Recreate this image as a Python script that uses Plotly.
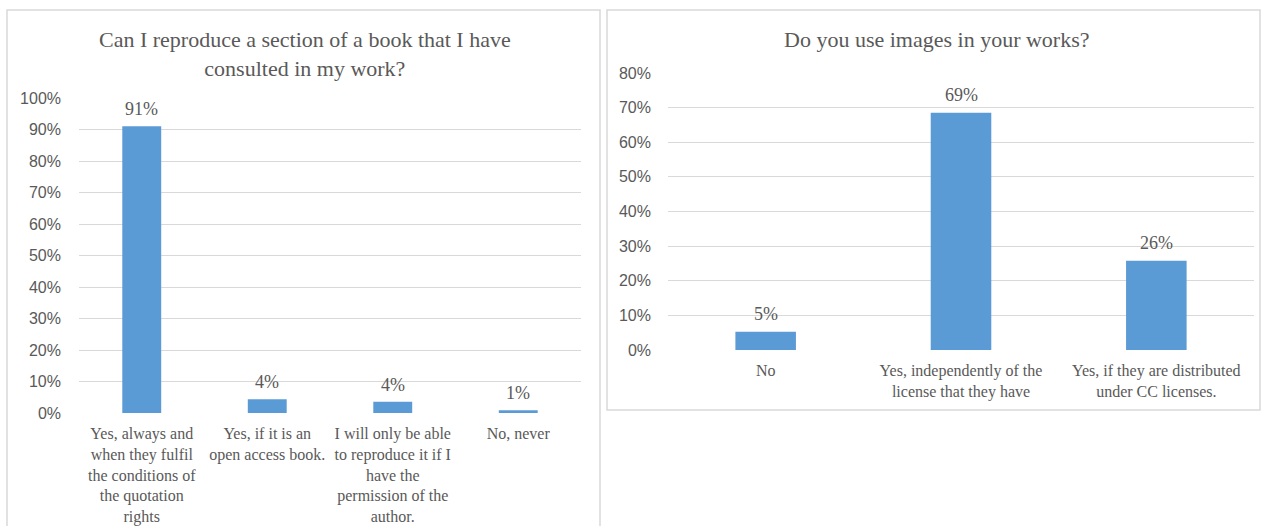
import plotly.graph_objects as go

W, H = 1262, 526

# ---- data ----
left_title = "Can I reproduce a section of a book that I have<br>consulted in my work?"
left_categories = [
    "Yes, always and<br>when they fulfil<br>the conditions of<br>the quotation<br>rights",
    "Yes, if it is an<br>open access book.",
    "I will only be able<br>to reproduce it if I<br>have the<br>permission of the<br>author.",
    "No, never",
]
left_values = [91, 4.4, 3.6, 0.9]
left_labels = ["91%", "4%", "4%", "1%"]
left_ticks = [0, 10, 20, 30, 40, 50, 60, 70, 80, 90, 100]
left_ticktext = ["0%", "10%", "20%", "30%", "40%", "50%", "60%", "70%", "80%", "90%", "100%"]

right_title = "Do you use images in your works?"
right_categories = [
    "No",
    "Yes, independently of the<br>license that they have",
    "Yes, if they are distributed<br>under CC licenses.",
]
right_values = [5.3, 68.5, 25.8]
right_labels = ["5%", "69%", "26%"]
right_ticks = [0, 10, 20, 30, 40, 50, 60, 70, 80]
right_ticktext = ["0%", "10%", "20%", "30%", "40%", "50%", "60%", "70%", "80%"]

BAR = "#5B9BD5"
GRID = "#D9D9D9"
TXT = "#595959"
SERIF = "Liberation Serif"
SANS = "Liberation Sans"


def px_x(p):
    return p / W


def px_y(p):
    return 1 - p / H


fig = go.Figure()
fig.add_trace(go.Bar(
    x=left_categories, y=left_values, xaxis="x", yaxis="y",
    marker=dict(color=BAR, line=dict(width=0)), width=0.31,
    showlegend=False, hoverinfo="skip",
))
fig.add_trace(go.Bar(
    x=right_categories, y=right_values, xaxis="x2", yaxis="y2",
    marker=dict(color=BAR, line=dict(width=0)), width=0.31,
    showlegend=False, hoverinfo="skip",
))

label_font = dict(family=SERIF, size=18, color=TXT)
for cat, val, lab in zip(left_categories, left_values, left_labels):
    fig.add_annotation(x=cat, y=val, xref="x", yref="y", text=lab,
                       showarrow=False, xanchor="center", yanchor="bottom",
                       yshift=5, font=label_font)
for cat, val, lab in zip(right_categories, right_values, right_labels):
    fig.add_annotation(x=cat, y=val, xref="x2", yref="y2", text=lab,
                       showarrow=False, xanchor="center", yanchor="bottom",
                       yshift=6, font=label_font)

cat_font = dict(family=SERIF, size=16, color=TXT)
num_font = dict(family=SANS, size=16, color=TXT)

fig.update_layout(
    width=W, height=H,
    margin=dict(l=0, r=0, t=0, b=0, autoexpand=False),
    paper_bgcolor="white", plot_bgcolor="white",
    font=dict(family=SERIF, color=TXT),
    xaxis=dict(domain=[px_x(79), px_x(581)], anchor="y", showgrid=False,
               showline=False, zeroline=False, ticks="", tickfont=cat_font,
               tickangle=0, ticklabelstandoff=9, automargin=False),
    yaxis=dict(domain=[px_y(413), px_y(98)], anchor="x", range=[0, 100],
               tickmode="array", tickvals=left_ticks, ticktext=left_ticktext,
               showgrid=True, gridcolor=GRID, gridwidth=1, zeroline=False,
               showline=False, tickfont=num_font, ticks="", ticklabelstandoff=17,
               automargin=False),
    xaxis2=dict(domain=[px_x(668), px_x(1254)], anchor="y2", showgrid=False,
                showline=False, zeroline=False, ticks="", tickfont=cat_font,
                tickangle=0, ticklabelstandoff=9, automargin=False),
    yaxis2=dict(domain=[px_y(350), px_y(73)], anchor="x2", range=[0, 80],
                tickmode="array", tickvals=right_ticks, ticktext=right_ticktext,
                showgrid=True, gridcolor=GRID, gridwidth=1, zeroline=False,
                showline=False, tickfont=num_font, ticks="", ticklabelstandoff=16,
                automargin=False),
)

fig.add_annotation(text=left_title, x=px_x(305), y=px_y(54), xref="paper",
                   yref="paper", showarrow=False, xanchor="center",
                   yanchor="middle", font=dict(family=SERIF, size=22, color=TXT))
fig.add_annotation(text=right_title, x=px_x(937), y=px_y(40), xref="paper",
                   yref="paper", showarrow=False, xanchor="center",
                   yanchor="middle", font=dict(family=SERIF, size=22, color=TXT))

fig.add_shape(type="rect", xref="paper", yref="paper",
              x0=px_x(7), x1=px_x(600), y0=-0.05, y1=px_y(10),
              line=dict(color=GRID, width=1.5), fillcolor="rgba(0,0,0,0)")
fig.add_shape(type="rect", xref="paper", yref="paper",
              x0=px_x(607), x1=px_x(1260), y0=px_y(410), y1=px_y(10),
              line=dict(color=GRID, width=1.5), fillcolor="rgba(0,0,0,0)")

fig.write_html(
    "out.html",
    config={"displayModeBar": False, "staticPlot": True},
    post_script=(
        "document.body.style.margin='0';"
        "document.documentElement.style.overflow='hidden';"
        "document.body.style.overflow='hidden';"
        "var gd=document.getElementById('{plot_id}');"
        "gd.style.position='fixed';gd.style.left='0';gd.style.top='0';"
    ),
)
